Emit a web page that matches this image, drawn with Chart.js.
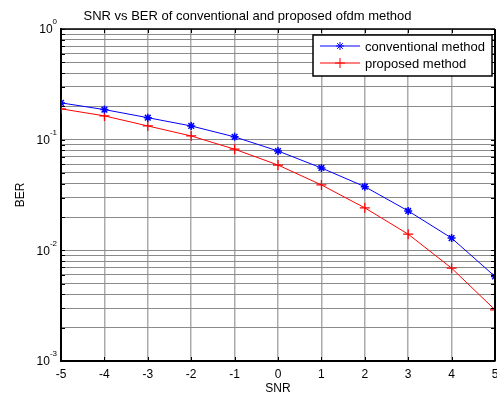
<!DOCTYPE html>
<html>
<head>
    <title>SNR vs BER</title>
    <script src="https://cdn.jsdelivr.net/npm/chart.js"></script>
    <style>
        html, body { margin: 0; padding: 0; background: #fff; }
        #wrap { width: 497px; height: 396px; }
    </style>
</head>
<body>
    <div id="wrap"><canvas id="myChart" width="497" height="396"></canvas></div>

    <script>
        // dati
        const snr = [-5, -4, -3, -2, -1, 0, 1, 2, 3, 4, 5];
        const berConventional = [0.215, 0.187, 0.158, 0.133, 0.106, 0.079, 0.0555, 0.0376, 0.0227, 0.0129, 0.0058];
        const berProposed = [0.19, 0.164, 0.133, 0.108, 0.082, 0.059, 0.039, 0.0242, 0.014, 0.0069, 0.0029];
        const yDecades = [-3, -2, -1, 0];
        const seriesNames = ['conventional method', 'proposed method'];

        const FONT = 'Arial, "Liberation Sans", sans-serif';

        // tutti i tick del log (1..9 x 10^k)
        const yTickValues = [];
        for (let e = -3; e < 0; e++) {
            for (let k = 1; k <= 9; k++) yTickValues.push(k * Math.pow(10, e));
        }
        yTickValues.push(1);

        const toPoints = arr => snr.map((s, i) => ({ x: s, y: arr[i] }));

        const framePlugin = {
            id: 'matlabFrame',
            afterDraw(chart) {
                const ctx = chart.ctx;
                const a = chart.chartArea;
                const xs = chart.scales.x, ys = chart.scales.y;
                ctx.save();

                // bordo superiore e destro
                ctx.strokeStyle = '#000';
                ctx.lineWidth = 1.5;
                ctx.beginPath();
                ctx.moveTo(a.left, a.top);
                ctx.lineTo(a.right, a.top);
                ctx.stroke();
                ctx.lineWidth = 2;
                ctx.beginPath();
                ctx.moveTo(a.right, a.top);
                ctx.lineTo(a.right, a.bottom);
                ctx.stroke();

                // piccoli tick interni
                ctx.lineWidth = 1;
                ctx.beginPath();
                yTickValues.forEach(v => {
                    const y = Math.round(ys.getPixelForValue(v)) + 0.5;
                    ctx.moveTo(a.right - 4, y); ctx.lineTo(a.right, y);
                    ctx.moveTo(a.left, y); ctx.lineTo(a.left + 4, y);
                });
                snr.forEach(s => {
                    const x = Math.round(xs.getPixelForValue(s)) + 0.5;
                    ctx.moveTo(x, a.top); ctx.lineTo(x, a.top + 4);
                    ctx.moveTo(x, a.bottom); ctx.lineTo(x, a.bottom - 4);
                });
                ctx.stroke();

                // etichette asse y con esponente
                ctx.fillStyle = '#000';
                ctx.textBaseline = 'middle';
                yDecades.forEach(e => {
                    const y = ys.getPixelForValue(Math.pow(10, e));
                    const exp = String(e);
                    ctx.font = '8px ' + FONT;
                    const ew = ctx.measureText(exp).width;
                    ctx.textAlign = 'left';
                    const expX = 57 - ew;
                    ctx.fillText(exp, expX, y - 7);
                    ctx.font = '12px ' + FONT;
                    ctx.textAlign = 'right';
                    ctx.fillText('10', expX, y + 1);
                });

                // legenda
                const lx = 313, ly = 35, lw = 179, lh = 41;
                ctx.fillStyle = '#fff';
                ctx.fillRect(lx, ly, lw, lh);
                ctx.strokeStyle = '#000';
                ctx.lineWidth = 1.5;
                ctx.strokeRect(lx, ly, lw, lh);
                chart.data.datasets.forEach((ds, i) => {
                    const y = ly + 11 + i * 17;
                    ctx.strokeStyle = ds.borderColor;
                    ctx.lineWidth = 1;
                    ctx.beginPath();
                    ctx.moveTo(320, y); ctx.lineTo(360, y);
                    ctx.stroke();
                    Chart.helpers.drawPoint(ctx, {
                        pointStyle: ds.pointStyle, radius: ds.pointRadius,
                        borderWidth: ds.pointBorderWidth
                    }, 340, y);
                    ctx.fillStyle = '#000';
                    ctx.font = '13px ' + FONT;
                    ctx.textAlign = 'left';
                    ctx.textBaseline = 'middle';
                    ctx.fillText(ds.label, 365, y + 1);
                });
                ctx.restore();
            }
        };

        const ctx = document.getElementById('myChart').getContext('2d');
        const myChartInstance = new Chart(ctx, {
            type: 'line',
            data: {
                datasets: [{
                    label: seriesNames[0],
                    data: toPoints(berConventional),
                    borderColor: '#0000ff',
                    backgroundColor: '#0000ff',
                    borderWidth: 1,
                    pointStyle: 'star',
                    pointRadius: 4,
                    pointBorderWidth: 1.5,
                    tension: 0
                }, {
                    label: seriesNames[1],
                    data: toPoints(berProposed),
                    borderColor: '#ff0000',
                    backgroundColor: '#ff0000',
                    borderWidth: 1,
                    pointStyle: 'cross',
                    pointRadius: 5,
                    pointBorderWidth: 1.2,
                    tension: 0
                }]
            },
            options: {
                responsive: false,
                animation: false,
                layout: { autoPadding: false, padding: { left: 0, right: 2, top: 0, bottom: 0 } },
                plugins: {
                    legend: { display: false },
                    tooltip: { enabled: false },
                    title: {
                        display: true,
                        text: 'SNR vs BER of conventional and proposed ofdm method',
                        color: '#000',
                        font: { family: FONT, size: 13, weight: 'normal' },
                        padding: { top: 8.5, bottom: 4.9 }
                    }
                },
                scales: {
                    x: {
                        type: 'linear',
                        min: -5,
                        max: 5,
                        afterFit(scale) {
                            scale.height = 35;
                            scale.paddingLeft = 0;
                            scale.paddingRight = 0;
                        },
                        ticks: {
                            stepSize: 1,
                            color: '#000',
                            padding: 6,
                            font: { family: FONT, size: 12 }
                        },
                        grid: { color: '#ababab', lineWidth: 1.5, drawTicks: false },
                        border: { display: true, color: '#000', width: 2 },
                        title: {
                            display: true,
                            text: 'SNR',
                            color: '#000',
                            font: { family: FONT, size: 12 },
                            padding: { top: 0, bottom: 0 }
                        }
                    },
                    y: {
                        type: 'logarithmic',
                        min: 0.001,
                        max: 1,
                        afterFit(scale) {
                            scale.width = 61;
                            scale.paddingTop = 0;
                            scale.paddingBottom = 0;
                        },
                        afterBuildTicks(scale) {
                            scale.ticks = yTickValues.map(v => ({ value: v }));
                        },
                        ticks: { display: false },
                        grid: { color: '#8a8a8a', lineWidth: 1, drawTicks: false },
                        border: { display: true, color: '#000', width: 2 },
                        title: {
                            display: true,
                            text: 'BER',
                            color: '#000',
                            font: { family: FONT, size: 12 },
                            padding: { top: 13 }
                        }
                    }
                }
            },
            plugins: [framePlugin]
        });
    </script>
</body>
</html>
